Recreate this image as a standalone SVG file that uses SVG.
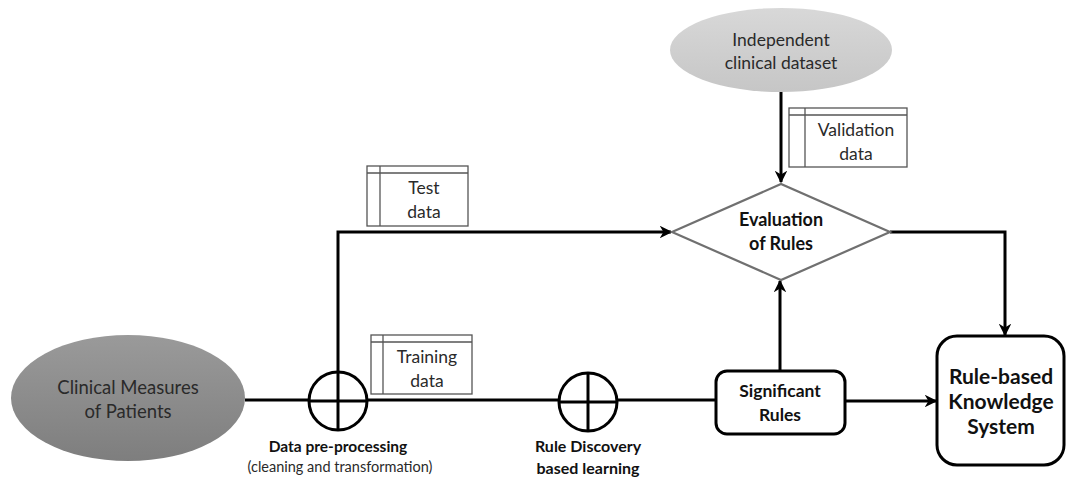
<svg xmlns="http://www.w3.org/2000/svg" width="1070" height="478" viewBox="0 0 1070 478">
<defs>
<style>
.t{font-family:Lato,"Liberation Sans",sans-serif;fill:#2a2a2a;text-anchor:middle}
.b{font-weight:bold;fill:#111}
.ln{fill:none;stroke:#000;stroke-width:3}
.doc{fill:#fff;stroke:#555;stroke-width:1.3}
.dl{stroke:#555;stroke-width:1.3}
.circ{fill:#fff;stroke:#000;stroke-width:3}
</style>
<linearGradient id="gDark" x1="0" y1="0" x2="0" y2="1">
<stop offset="0" stop-color="#9a9a9a"/><stop offset="1" stop-color="#7e7e7e"/>
</linearGradient>
<linearGradient id="gLight" x1="0" y1="0" x2="0" y2="1">
<stop offset="0" stop-color="#d8d8d8"/><stop offset="1" stop-color="#c6c6c6"/>
</linearGradient>
<marker id="arr" viewBox="0 0 10 10" refX="9" refY="5" markerWidth="4.2" markerHeight="4.2" orient="auto" markerUnits="strokeWidth">
<path d="M0,0 L10,5 L0,10 L3,5 z" fill="#000"/>
</marker>
</defs>

<g id="connectors">
<line class="ln" x1="245" y1="400" x2="716" y2="400"/>
<polyline class="ln" points="338,431 338,232 671,232" marker-end="url(#arr)"/>
<line class="ln" x1="781" y1="92" x2="781" y2="182" marker-end="url(#arr)"/>
<line class="ln" x1="780" y1="371" x2="780" y2="281" marker-end="url(#arr)"/>
<line class="ln" x1="845" y1="401" x2="936" y2="401" marker-end="url(#arr)"/>
<polyline class="ln" points="890,232 1005,232 1005,335" marker-end="url(#arr)"/>
</g>

<g id="clinical-measures">
<ellipse cx="128" cy="398" rx="117" ry="63" fill="url(#gDark)"/>
<text class="t" x="128" y="394" font-size="18.5">Clinical Measures</text>
<text class="t" x="128" y="418" font-size="18.5">of Patients</text>
</g>

<g id="independent-dataset">
<ellipse cx="781" cy="50" rx="111" ry="42" fill="url(#gLight)"/>
<text class="t" x="781" y="46" font-size="17.5">Independent</text>
<text class="t" x="781" y="69" font-size="17.5">clinical dataset</text>
</g>

<g id="preprocessing">
<circle class="circ" cx="338" cy="401" r="29"/>
<line class="ln" x1="309" y1="401" x2="367" y2="401"/>
<line class="ln" x1="338" y1="372" x2="338" y2="430"/>
<text class="t b" x="338" y="452" font-size="15.5">Data pre-processing</text>
<text class="t" x="340" y="472" font-size="14.5">(cleaning and transformation)</text>
</g>

<g id="rule-discovery">
<circle class="circ" cx="588" cy="402" r="29"/>
<line class="ln" x1="559" y1="402" x2="617" y2="402"/>
<line class="ln" x1="588" y1="373" x2="588" y2="431"/>
<text class="t b" x="588" y="452" font-size="16">Rule Discovery</text>
<text class="t b" x="588" y="474" font-size="16">based learning</text>
</g>

<g id="test-data">
<rect class="doc" x="367" y="166" width="101" height="60"/>
<line class="dl" x1="367" y1="173" x2="468" y2="173"/>
<line class="dl" x1="380" y1="166" x2="380" y2="226"/>
<text class="t" x="424" y="194" font-size="17.5">Test</text>
<text class="t" x="424" y="218" font-size="17.5">data</text>
</g>

<g id="training-data">
<rect class="doc" x="371" y="335" width="101" height="59"/>
<line class="dl" x1="371" y1="342" x2="472" y2="342"/>
<line class="dl" x1="383" y1="335" x2="383" y2="394"/>
<text class="t" x="427" y="363" font-size="17.5">Training</text>
<text class="t" x="427" y="387" font-size="17.5">data</text>
</g>

<g id="validation-data">
<rect class="doc" x="789" y="108" width="118" height="59"/>
<line class="dl" x1="789" y1="115" x2="907" y2="115"/>
<line class="dl" x1="805" y1="108" x2="805" y2="167"/>
<text class="t" x="856" y="136" font-size="17.5">Validation</text>
<text class="t" x="856" y="160" font-size="17.5">data</text>
</g>

<g id="evaluation">
<polygon points="672,232 781,184 890,232 781,280" fill="#fff" stroke="#707070" stroke-width="2.2"/>
<text class="t b" x="781" y="226" font-size="18">Evaluation</text>
<text class="t b" x="781" y="250" font-size="18">of Rules</text>
</g>

<g id="significant-rules">
<rect x="716" y="371" width="129" height="63" rx="11" fill="#fff" stroke="#000" stroke-width="3"/>
<text class="t b" x="780" y="397" font-size="17.5">Significant</text>
<text class="t b" x="780" y="421" font-size="17.5">Rules</text>
</g>

<g id="knowledge-system">
<rect x="937" y="336" width="127" height="129" rx="20" fill="#fff" stroke="#000" stroke-width="3"/>
<text class="t b" x="1001" y="384" font-size="21">Rule-based</text>
<text class="t b" x="1001" y="409" font-size="21">Knowledge</text>
<text class="t b" x="1001" y="434" font-size="21">System</text>
</g>
</svg>
